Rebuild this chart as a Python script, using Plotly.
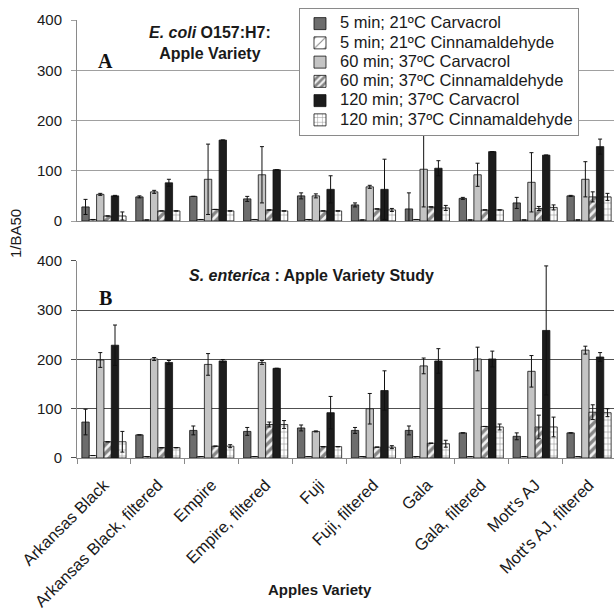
import plotly.graph_objects as go

# Apple varieties tested (x categories)
varieties = [
    "Arkansas Black", "Arkansas Black, filtered", "Empire", "Empire, filtered",
    "Fuji", "Fuji, filtered", "Gala", "Gala, filtered", "Mott's AJ", "Mott's AJ, filtered",
]

treatments = [
    "5 min; 21ºC Carvacrol",
    "5 min; 21ºC Cinnamaldehyde",
    "60 min; 37ºC Carvacrol",
    "60 min; 37ºC Cinnamaldehyde",
    "120 min; 37ºC Carvacrol",
    "120 min; 37ºC Cinnamaldehyde",
]

# Panel A: E. coli O157:H7 (1/BA50 means and standard deviations)
ecoli_carv5 = [28, 48, 49, 44, 50, 32, 24, 45, 36, 50]
ecoli_carv5_sd = [15, 2, 0, 5, 6, 4, 32, 2, 11, 1]
ecoli_cinn5 = [3, 2, 3, 3, 3, 2, 3, 2, 2, 2]
ecoli_cinn5_sd = [0, 0, 0, 0, 0, 0, 0, 0, 0, 0]
ecoli_carv60 = [53, 58, 83, 92, 50, 68, 103, 92, 77, 83]
ecoli_carv60_sd = [2, 3, 70, 56, 4, 3, 75, 23, 59, 35]
ecoli_cinn60 = [10, 20, 23, 22, 20, 24, 28, 22, 25, 48]
ecoli_cinn60_sd = [0, 0, 0, 0, 0, 0, 0, 0, 4, 10]
ecoli_carv120 = [50, 76, 161, 102, 63, 63, 105, 138, 131, 148]
ecoli_carv120_sd = [1, 7, 0, 0, 27, 60, 15, 0, 0, 15]
ecoli_cinn120 = [10, 20, 20, 20, 20, 22, 26, 22, 27, 48]
ecoli_cinn120_sd = [8, 0, 0, 0, 0, 3, 5, 0, 5, 7]

# Panel B: S. enterica
sent_carv5 = [73, 47, 56, 54, 61, 56, 56, 51, 44, 51]
sent_carv5_sd = [26, 0, 9, 8, 6, 6, 9, 0, 7, 0]
sent_cinn5 = [5, 3, 3, 3, 3, 3, 3, 3, 3, 3]
sent_cinn5_sd = [0, 0, 0, 0, 0, 0, 0, 0, 0, 0]
sent_carv60 = [199, 201, 190, 194, 54, 100, 187, 201, 176, 219]
sent_carv60_sd = [15, 3, 22, 4, 1, 31, 16, 24, 32, 8]
sent_cinn60 = [33, 21, 24, 68, 23, 22, 30, 64, 63, 93]
sent_cinn60_sd = [0, 0, 0, 5, 0, 0, 0, 0, 24, 15]
sent_carv120 = [229, 194, 197, 182, 92, 137, 197, 201, 259, 205]
sent_carv120_sd = [41, 4, 3, 0, 33, 40, 25, 16, 131, 9]
sent_cinn120 = [33, 21, 24, 68, 23, 22, 29, 63, 63, 92]
sent_cinn120_sd = [21, 0, 3, 8, 0, 3, 7, 6, 20, 8]

ecoli_values = [ecoli_carv5, ecoli_cinn5, ecoli_carv60, ecoli_cinn60, ecoli_carv120, ecoli_cinn120]
ecoli_sds = [ecoli_carv5_sd, ecoli_cinn5_sd, ecoli_carv60_sd, ecoli_cinn60_sd, ecoli_carv120_sd, ecoli_cinn120_sd]
sent_values = [sent_carv5, sent_cinn5, sent_carv60, sent_cinn60, sent_carv120, sent_cinn120]
sent_sds = [sent_carv5_sd, sent_cinn5_sd, sent_carv60_sd, sent_cinn60_sd, sent_carv120_sd, sent_cinn120_sd]

edge = dict(color="#111111", width=0.8)
markers = [
    dict(color="#6d6d6d", line=edge),
    dict(color="white", line=edge,
         pattern=dict(shape="/", fgcolor="#111111", bgcolor="white", size=9, solidity=0.15)),
    dict(color="#c4c4c4", line=edge),
    dict(color="white", line=edge,
         pattern=dict(shape="/", fgcolor="#1a1a1a", bgcolor="#f2f2f2", size=6, solidity=0.55)),
    dict(color="#1c1c1c", line=edge),
    dict(color="white", line=edge,
         pattern=dict(shape="+", fgcolor="#222222", bgcolor="white", size=6, solidity=0.18)),
]

fig = go.Figure()


def add_panel(values, sds, xa, ya, legend):
    for name, v, sd, mk in zip(treatments, values, sds, markers):
        fig.add_trace(go.Bar(
            x=varieties, y=v, xaxis=xa, yaxis=ya,
            name="<span style='font-size:16.5px'>" + name + "</span>",
            showlegend=legend, marker=mk,
            error_y=dict(type="data", array=sd, visible=True,
                         color="#111111", thickness=1, width=2),
        ))


add_panel(ecoli_values, ecoli_sds, "x2", "y2", True)
add_panel(sent_values, sent_sds, "x", "y", False)

grid_a = "#a0a0a0"
grid_b = "#505050"
axis_col = "#8a8a8a"


def note(text, x, y, **kw):
    return dict(text=text, xref="paper", yref="paper", x=x, y=y,
                xanchor="center", yanchor="middle", showarrow=False, **kw)


fig.update_layout(
    width=614, height=615,
    margin=dict(l=77, r=0, t=20, b=157),
    paper_bgcolor="white", plot_bgcolor="white",
    barmode="group", bargap=0.18, bargroupgap=0,
    font=dict(family="Liberation Sans", size=15, color="#1a1a1a"),
    xaxis=dict(domain=[0, 1], anchor="y", range=[-0.5, 9.463],
               tickangle=-45, ticks="outside", tickson="boundaries", ticklen=5,
               tickcolor=axis_col, showline=True, linecolor=axis_col, linewidth=1,
               tickfont=dict(size=16.5), ticklabelstandoff=10, showgrid=False),
    xaxis2=dict(domain=[0, 1], anchor="y2", matches="x", showticklabels=False,
                ticks="", showline=True, linecolor=axis_col, showgrid=False),
    yaxis=dict(domain=[0, 0.4498], anchor="x", range=[0, 400], dtick=100,
               ticks="outside", ticklen=5, tickcolor=grid_b, gridcolor=grid_b,
               gridwidth=1.2, showline=True, linecolor=axis_col, zeroline=False,
               tickfont=dict(size=15), ticklabelstandoff=6),
    yaxis2=dict(domain=[0.5411, 1], anchor="x2", range=[0, 400], dtick=100,
                ticks="outside", ticklen=5, tickcolor=grid_a, gridcolor=grid_a,
                gridwidth=1, showline=True, linecolor=axis_col, zeroline=False,
                tickfont=dict(size=15), ticklabelstandoff=6),
    legend=dict(x=0.4134, y=1.0274, xanchor="left", yanchor="top",
                bgcolor="white", bordercolor="#8a8a8a", borderwidth=1,
                font=dict(size=12.5, family="Liberation Sans", color="#1a1a1a"),
                traceorder="normal", entrywidth=250),
    annotations=[
        note("<b><i>E. coli</i> O157:H7:<br>Apple Variety</b>", 0.2477, 0.9486,
             font=dict(size=16), align="center"),
        note("<b>A</b>", 0.0531, 0.9064,
             font=dict(size=20, family="Liberation Serif", color="#111")),
        note("<b><i>S. enterica</i> : Apple Variety Study</b>", 0.4358, 0.4178,
             font=dict(size=16)),
        note("<b>B</b>", 0.0540, 0.3664,
             font=dict(size=20, family="Liberation Serif", color="#111")),
        note("1/BA50", -0.1136, 0.5137, textangle=-90, font=dict(size=15)),
        note("<b>Apples Variety</b>", 0.4525, -0.301, font=dict(size=15)),
    ],
)

fig.write_html("out.html")
